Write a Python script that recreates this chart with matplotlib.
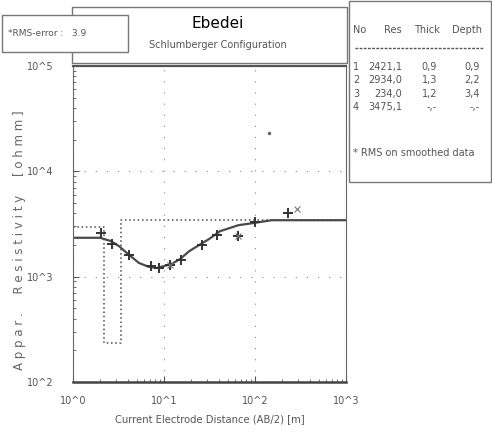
import matplotlib.pyplot as plt
from matplotlib.patches import Rectangle
from matplotlib.lines import Line2D

# dados
station = 'Ebedei'
rms_error = 3.9
layer_no = [1, 2, 3, 4]
layer_res = [2421.1, 2934.0, 234.0, 3475.1]
layer_thick = [0.9, 1.3, 1.2]
layer_depth = [0.9, 2.2, 3.4]

# curva calculada (linha continua)
calc_ab2 = [1.0, 1.98, 2.6, 3.2, 4.1, 5.3, 6.8, 8.3, 10.0, 12.3, 15.0, 19.0, 24.9, 31.6, 41.2, 65.6, 100, 152, 1000]
calc_rho = [2340, 2340, 2180, 1950, 1620, 1350, 1240, 1210, 1260, 1330, 1470, 1750, 2020, 2290, 2700, 3080, 3245, 3435, 3435]

# dados de campo
obs_ab2 = [2.01, 2.7, 4.1, 7.2, 8.9, 11.6, 15.2, 26.2, 37.9, 64.8, 99.5, 229]
obs_rho = [2610, 2040, 1620, 1250, 1220, 1280, 1450, 2020, 2500, 2420, 3300, 4050]
obs_x_ab2 = [11.6, 64.8, 293]
obs_x_rho = [1280, 2420, 4400]
outlier_ab2 = [141]
outlier_rho = [23000]

W, H = 492, 441
fig = plt.figure(figsize=(W / 100, H / 100), dpi=100)
cinza = '#4a4a4a'
fonte = ['Liberation Sans Narrow', 'DejaVu Sans']

ax = fig.add_axes([73 / W, 1 - 382 / H, 273 / W, 316 / H])
ax.set_xscale('log')
ax.set_yscale('log')
ax.set_xlim(1, 1000)
ax.set_ylim(100, 100000)

# modelo em camadas (degraus pontilhados)
step_x = [1.0]
step_y = [layer_res[1]]
for i, d in enumerate(layer_depth[1:]):
    step_x += [d, d]
    step_y += [layer_res[i + 1], layer_res[i + 2]]
step_x.append(1000)
step_y.append(layer_res[3])
ax.plot(step_x, step_y, color=cinza, lw=1.1, ls=(0, (1, 1.8)))

ax.plot(calc_ab2, calc_rho, color=cinza, lw=1.6)
ax.plot(obs_ab2, obs_rho, ls='none', marker='+', ms=7, mew=1.4, color='#333333')
ax.plot(obs_x_ab2, obs_x_rho, ls='none', marker='x', ms=5, mew=0.8, color='#777777')
ax.plot(outlier_ab2, outlier_rho, ls='none', marker='.', ms=3, color='#666666')

ax.grid(True, which='major', color='#888888', lw=0.8, ls=(0, (1, 9)))
ax.set_xticks([1, 10, 100, 1000])
ax.set_xticklabels(['10^0', '10^1', '10^2', '10^3'], family=fonte, fontsize=7, color='#555555')
ax.set_yticks([100, 1000, 10000, 100000])
ax.set_yticklabels(['10^2', '10^3', '10^4', '10^5'], family=fonte, fontsize=7, color='#555555')
ax.tick_params(which='major', direction='in', length=4, pad=10, colors='#555555', labelcolor='#555555')
ax.tick_params(axis='y', which='major', pad=14)
ax.tick_params(which='minor', direction='in', length=2, colors='#555555')
ax.tick_params(axis='x', which='both', top=False)
ax.tick_params(axis='y', which='both', right=False)
for s in ['left', 'right']:
    ax.spines[s].set_color('#666666')
    ax.spines[s].set_linewidth(0.8)
ax.spines['top'].set_linewidth(1.6)
ax.spines['top'].set_color('#555555')
ax.spines['bottom'].set_linewidth(1.8)
ax.spines['bottom'].set_color('#444444')

ax.set_xlabel('Current Electrode Distance (AB/2) [m]', family=fonte, fontsize=7.2,
              color='#555555', labelpad=6)
fig.text(20 / W, 1 - 240 / H, 'A p p a r .     R e s i s t i v i t y     [ o h m m ]',
         rotation=90, ha='center', va='center', family=fonte, fontsize=8.5, color='#666666')

# caixas do cabecalho
fig.add_artist(Rectangle((72 / W, 1 - 63 / H), 275 / W, 56 / H, transform=fig.transFigure,
                         fill=False, ec='#777777', lw=1.0))
fig.add_artist(Rectangle((2 / W, 1 - 52 / H), 126 / W, 37 / H, transform=fig.transFigure,
                         fc='white', ec='#777777', lw=1.0))
fig.text(8 / W, 1 - 34 / H, '*RMS-error :   %.1f' % rms_error, family=fonte, fontsize=6.5,
         color='#555555', va='center')
fig.text(218 / W, 1 - 23 / H, station, fontsize=11, ha='center', va='center', color='black')
fig.text(218 / W, 1 - 45 / H, 'Schlumberger Configuration', family=fonte, fontsize=7,
         ha='center', va='center', color='#555555')

# tabela do modelo
fig.add_artist(Rectangle((349 / W, 1 - 182 / H), 142 / W, 181 / H, transform=fig.transFigure,
                         fill=False, ec='#777777', lw=1.0))
hy = 1 - 30 / H
fig.text(353 / W, hy, 'No', family=fonte, fontsize=7, color='#555555', va='center')
fig.text(402 / W, hy, 'Res', family=fonte, fontsize=7, color='#555555', va='center', ha='right')
fig.text(440 / W, hy, 'Thick', family=fonte, fontsize=7, color='#555555', va='center', ha='right')
fig.text(482 / W, hy, 'Depth', family=fonte, fontsize=7, color='#555555', va='center', ha='right')
fig.add_artist(Line2D([355 / W, 483 / W], [1 - 48 / H, 1 - 48 / H], transform=fig.transFigure,
                      color='#555555', lw=1.0, ls=(0, (2, 1))))
for i in range(4):
    ry = 1 - (67 + i * 13.3) / H
    th = '%.1f' % layer_thick[i] if i < 3 else '-,-'
    dp = '%.1f' % layer_depth[i] if i < 3 else '-,-'
    fig.text(353 / W, ry, str(layer_no[i]), family=fonte, fontsize=7, color='#555555', va='center')
    fig.text(402 / W, ry, ('%.1f' % layer_res[i]).replace('.', ','), family=fonte, fontsize=7,
             color='#555555', va='center', ha='right')
    fig.text(437 / W, ry, th.replace('.', ','), family=fonte, fontsize=7, color='#555555',
             va='center', ha='right')
    fig.text(480 / W, ry, dp.replace('.', ','), family=fonte, fontsize=7, color='#555555',
             va='center', ha='right')
fig.text(353 / W, 1 - 153 / H, '* RMS on smoothed data', family=fonte, fontsize=7,
         color='#555555', va='center')

fig.savefig('out.png', dpi=100)
